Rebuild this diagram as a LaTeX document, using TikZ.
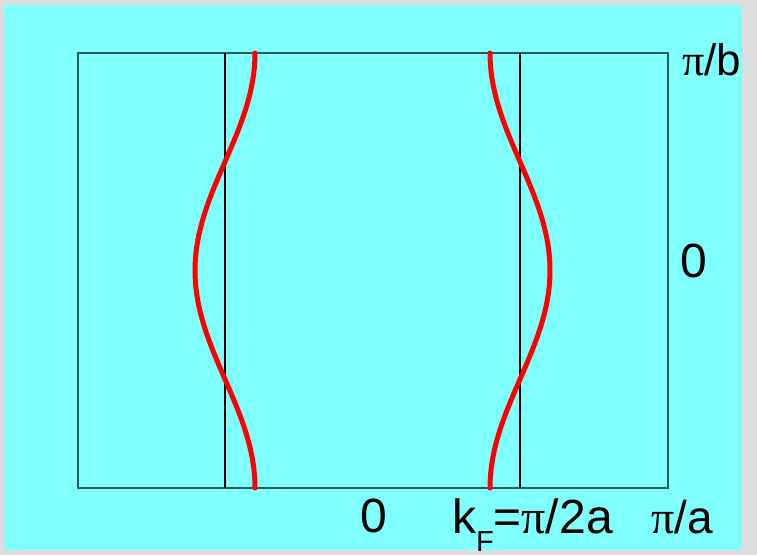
\documentclass[tikz,border=0pt]{standalone}
\usepackage{fontspec}
\setmainfont{Liberation Sans}
\newfontfamily\pifont{Liberation Serif}
\newcommand{\PIsym}{{\pifont π}}
\definecolor{bgcyan}{HTML}{80FFFF}
\definecolor{framegray}{HTML}{DDDDDD}
\definecolor{boxline}{HTML}{2A5A5A}
\begin{document}
\begin{tikzpicture}[x=1pt,y=-1pt,
  lbl/.style={anchor=base west, inner sep=0pt, outer sep=0pt, font=\fontsize{44}{50}\selectfont},
  biglbl/.style={lbl, font=\fontsize{48}{54}\selectfont},
  kline/.style={black, line width=2.5pt},
  fermi/.style={red, line width=5pt, line cap=round}]
\useasboundingbox (0,0) rectangle (757,555);
\fill[framegray] (0,0) rectangle (757,555);
\fill[bgcyan] (4,5) rectangle (742,550);
\draw[boxline, line width=1.2pt] (78,53) rectangle (668,488);
\coordinate (l1) at (225,53); \coordinate (l2) at (225,488);
\coordinate (r1) at (520,53); \coordinate (r2) at (520,488);
\draw[kline] (l1) -- (l2);
\draw[kline] (r1) -- (r2);
\draw[fermi, domain=0:435, samples=90, variable=\t] plot ({225+30*cos(0.827586*\t)}, {53+\t});
\draw[fermi, domain=0:435, samples=90, variable=\t] plot ({520-30*cos(0.827586*\t)}, {53+\t});
\node[lbl] (pib) at (682,75) {\PIsym/b};
\node[biglbl] (zeroR) at (680,277) {0};
\node[biglbl] (zeroB) at (360,532) {0};
\node[biglbl] (kf) at (452,533) {k\raisebox{-18pt}{\fontsize{29}{34}\selectfont F}=\PIsym/2a};
\node[lbl, font=\fontsize{46}{52}\selectfont] (pia) at (651,533) {\PIsym/a};
\end{tikzpicture}
\end{document}
